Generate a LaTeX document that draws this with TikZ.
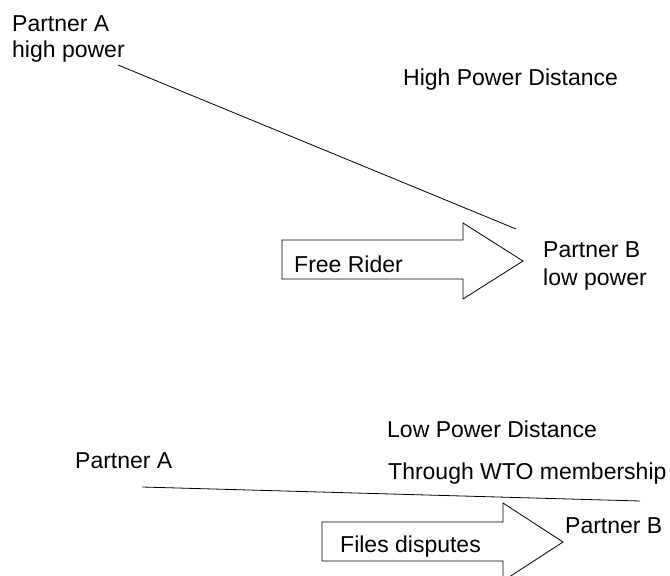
\documentclass[tikz,border=0pt]{standalone}
\usepackage{fontspec}
\setmainfont{Liberation Sans}
\begin{document}
\begin{tikzpicture}[x=1bp,y=-1bp,
  lbl/.style={anchor=base west,inner sep=0pt,font=\fontsize{23bp}{27bp}\selectfont},
  edge/.style={draw=black,line width=0.8bp},
  fatarrow/.style={draw=black,line width=0.8bp,line join=miter}]
\useasboundingbox (0,0) rectangle (670,576);

% ---- High power distance ----
\node[lbl] (pa1) at (12,32) {Partner A};
\node[lbl] (pa1b) at (12,58) {high power};
\node[lbl] (hpd) at (403,86) {High Power Distance};
\node[lbl] (pb1) at (543,257) {Partner B};
\node[lbl] (pb1b) at (543,285) {low power};
\coordinate (l1s) at (118,65);
\coordinate (l1e) at (516,229);
\draw[edge] (l1s) -- (l1e);
\draw[fatarrow] (282,240) -- (463,240) -- (463,223) -- (523,261)
  -- (463,299) -- (463,279) -- (282,279) -- cycle;
\node[lbl] (fr) at (294,272) {Free Rider};

% ---- Low power distance ----
\node[lbl] (lpd) at (387,437) {Low Power Distance};
\node[lbl] (wto) at (388,479) {Through WTO membership};
\node[lbl] (pa2) at (75,468) {Partner A};
\node[lbl] (pb2) at (565,533) {Partner B};
\coordinate (l2s) at (142,487);
\coordinate (l2e) at (640,501);
\draw[edge] (l2s) -- (l2e);
\draw[fatarrow] (322,522) -- (503,522) -- (503,503) -- (563,542)
  -- (503,581) -- (503,561) -- (322,561) -- cycle;
\node[lbl] (fd) at (340,552) {Files disputes};
\end{tikzpicture}
\end{document}
